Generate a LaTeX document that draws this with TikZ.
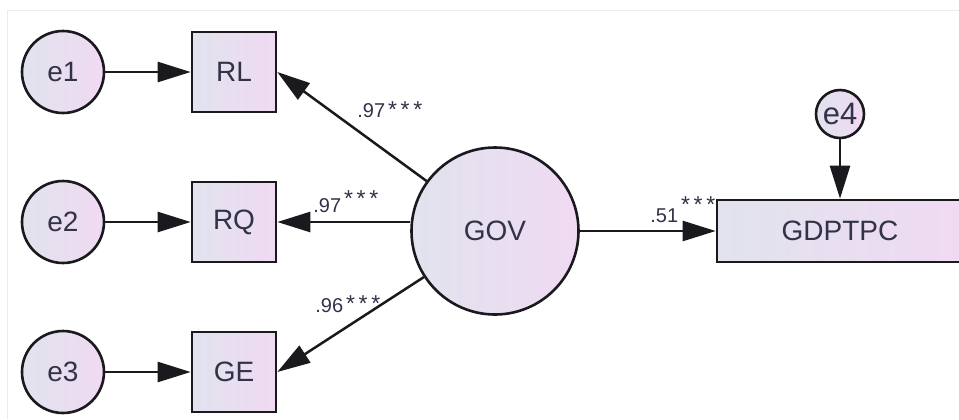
\documentclass[tikz,border=0pt]{standalone}
\usepackage{fontspec}
\setmainfont{Liberation Sans}
\usetikzlibrary{arrows.meta}
\definecolor{amosL}{RGB}{225,227,238}
\definecolor{amosR}{RGB}{240,218,242}
\definecolor{amosTxt}{RGB}{50,50,72}
\definecolor{amosLine}{RGB}{25,25,30}

\begin{document}
\begin{tikzpicture}[x=0.5pt, y=-0.5pt,
  lat/.style={circle, draw=amosLine, line width=1.3pt, left color=amosL, right color=amosR,
    text=amosTxt, inner sep=0pt, font=\fontsize{14}{16}\selectfont},
  obs/.style={rectangle, draw=amosLine, line width=1.3pt, left color=amosL, right color=amosR,
    text=amosTxt, inner sep=0pt, font=\fontsize{14}{16}\selectfont},
  reg/.style={draw=amosLine, line width=1.25pt, -{Triangle[length=16.5pt,width=10pt]}},
  coef/.style={anchor=base west, inner sep=0pt, text=amosTxt, font=\fontsize{10}{11}\selectfont}]
\useasboundingbox (0,0) rectangle (959,419);
% screenshot frame
\draw[black!8] (7,419) -- (7,10) -- (959,10);
% measurement part: e -> indicator, one row each
\foreach \n/\ind/\y in {1/RL/72, 2/RQ/222, 3/GE/372}
  {\node[lat, minimum size=41pt] (e\n) at (63,\y) {e\n};
   \node[obs, minimum width=42pt, minimum height=40pt] (\ind) at (234,\y) {\ind};
   \draw[reg] (e\n) -- (\ind);}
% latent factor and outcome
\node[lat, minimum size=83.5pt] (GOV) at (495,231) {GOV};
\node[obs, minimum width=123pt, minimum height=31pt] (GDPTPC) at (840,231) {GDPTPC};
\node[lat, minimum size=24pt, font=\fontsize{15.5}{17}\selectfont] (e4) at (840,114) {e4};
% paths
\draw[reg] (GOV) -- (RL.east);
\draw[reg] (GOV.west |- RQ.east) -- (RQ.east);
\draw[reg] (GOV) -- (GE.east);
\draw[reg] (GOV) -- (GDPTPC);
\draw[reg] (e4) -- (GDPTPC);
% estimates: \stars{raise}
\newcommand{\stars}[1]{\raisebox{#1}{\fontsize{11.5}{12}\selectfont\kern1.5pt*\kern1.8pt*\kern1.8pt*}}
\node[coef] (cRL) at (357,117) {.97\stars{0pt}};
\node[coef] (cRQ) at (313,212) {.97\stars{3pt}};
\node[coef] (cGE) at (315,312) {.96\stars{0.5pt}};
\node[coef] (cGDP) at (650,222) {.51\stars{5pt}};
\end{tikzpicture}
\end{document}
